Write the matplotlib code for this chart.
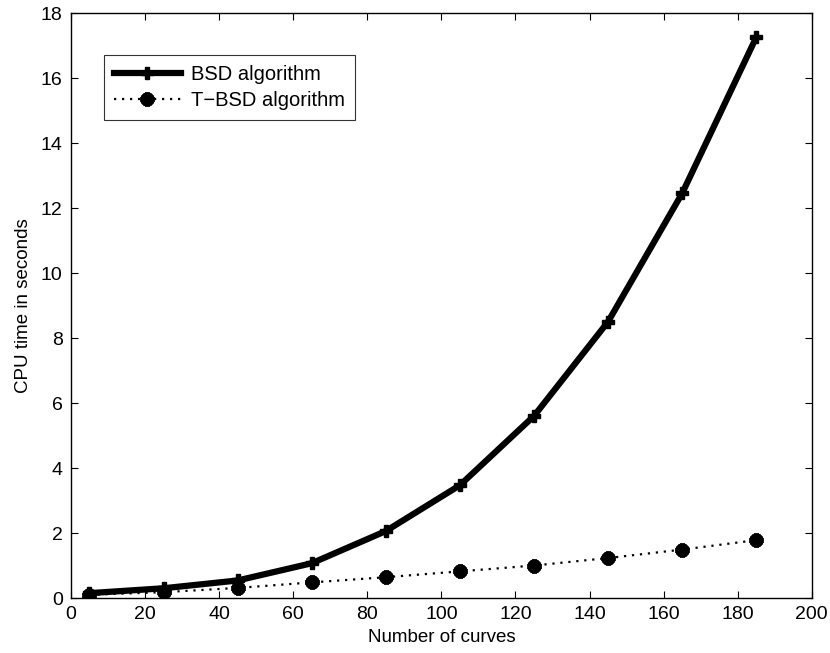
import matplotlib
matplotlib.use("Agg")
import matplotlib.pyplot as plt

x_curves = [5, 25, 45, 65, 85, 105, 125, 145, 165, 185]
bsd_times = [0.15, 0.30, 0.54, 1.07, 2.06, 3.47, 5.60, 8.50, 12.45, 17.25]
tbsd_times = [0.10, 0.18, 0.31, 0.48, 0.64, 0.82, 1.00, 1.23, 1.49, 1.78]
x_ticks = [0, 20, 40, 60, 80, 100, 120, 140, 160, 180, 200]
y_ticks = [0, 2, 4, 6, 8, 10, 12, 14, 16, 18]

plt.rcParams['font.family'] = ['Liberation Sans', 'DejaVu Sans']
fig = plt.figure(figsize=(8.3, 6.53), dpi=100)
ax = fig.add_axes([0.0855, 0.0842, 0.8925, 0.8958])

ax.plot(x_curves, bsd_times, color='black', linewidth=4.5, marker='P',
        markersize=9, markeredgewidth=1, label='BSD algorithm')
ax.plot(x_curves, tbsd_times, color='black', linewidth=1.6, linestyle=(0, (1, 2.6)),
        marker=(8, 2, 0), markersize=10, markeredgewidth=3.6, label='T\u2212BSD algorithm')

ax.set_xlim(0, 200)
ax.set_ylim(0, 18)
ax.set_xticks(x_ticks)
ax.set_yticks(y_ticks)
ax.tick_params(direction='in', length=5, labelsize=14, top=True, right=True,
               labeltop=False, labelright=False, pad=6)
for s in ax.spines.values():
    s.set_linewidth(1)
ax.set_xlabel('Number of curves', fontsize=13.5, labelpad=4)
ax.set_ylabel('CPU time in seconds', fontsize=13.5, labelpad=6)

leg = ax.legend(loc='upper left', bbox_to_anchor=(0.031, 0.945), fontsize=14.5,
                frameon=True, fancybox=False, edgecolor='black', handlelength=3.3,
                borderpad=0.5, labelspacing=0.35, handletextpad=0.5)
leg.get_frame().set_linewidth(0.8)

fig.savefig('out.png', dpi=100)
